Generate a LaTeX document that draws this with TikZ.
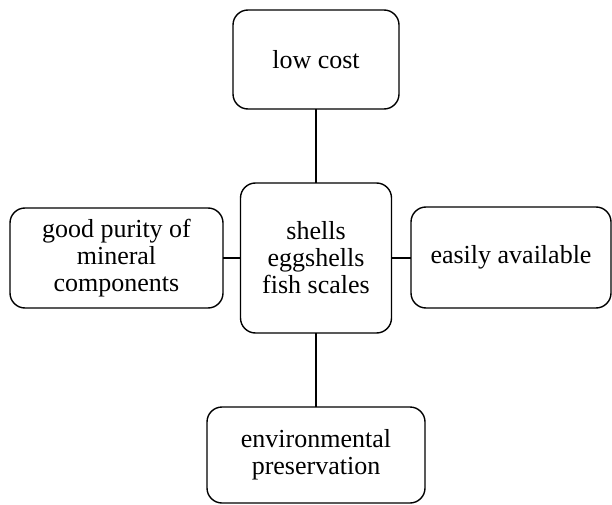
\documentclass[tikz,border=0pt]{standalone}
\usepackage{fontspec}
\setmainfont{Liberation Serif}
\begin{document}
\begin{tikzpicture}[x=1pt,y=-1pt,
  box/.style={draw, line width=1.4pt, rounded corners=15pt, inner sep=0pt, outer sep=0pt,
    align=center, font=\fontsize{26}{27}\selectfont},
  link/.style={line width=1.4pt}]
\useasboundingbox (0,0) rectangle (612,505);
\node[box, minimum width=166pt, minimum height=99pt] (top) at (316,59.5) {low cost};
\node[box, minimum width=151pt, minimum height=150pt] (mid) at (316,258) {shells\\eggshells\\fish scales};
\node[box, minimum width=213pt, minimum height=100pt] (left) at (116.5,258) {good purity of\\mineral\\components};
\node[box, minimum width=200pt, minimum height=101pt] (right) at (511,257.5) {easily available};
\node[box, minimum width=218pt, minimum height=96pt] (bot) at (316,455) {environmental\\preservation};
\draw[link] (top.south) -- (top.south |- mid.north);
\draw[link] (mid.west) -- (left.east |- mid.west);
\draw[link] (mid.east) -- (right.west |- mid.east);
\draw[link] (mid.south) -- (mid.south |- bot.north);
\end{tikzpicture}
\end{document}
